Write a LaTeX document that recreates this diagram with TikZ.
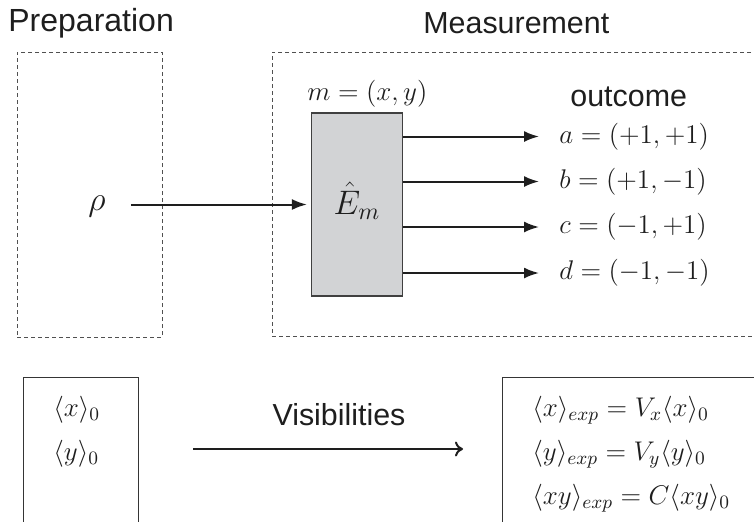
\documentclass[tikz,border=0pt]{standalone}
\usepackage{fix-cm}
\usepackage{fontspec}
\newfontfamily\labelsans{Liberation Sans}
\usetikzlibrary{arrows.meta}
\definecolor{ink}{HTML}{1E1E1E}
\definecolor{boxgray}{HTML}{D2D3D5}
\definecolor{dashgray}{HTML}{505050}
\tikzset{
  sanslabel/.style={font=\labelsans\fontsize{15.2}{18}\selectfont, text=ink, inner sep=0pt},
  mathlabel/.style={font=\fontsize{13.5}{17}\selectfont, text=ink, inner sep=0pt},
  biglabel/.style={font=\fontsize{17}{20}\selectfont, text=ink, inner sep=0pt},
  dashbox/.style={draw=dashgray, line width=0.5pt, dash pattern=on 2pt off 1.5pt, inner sep=0pt},
  solidbox/.style={draw=ink!90, line width=0.5pt, inner sep=0pt},
  graybox/.style={draw=ink!85, fill=boxgray, line width=0.6pt, inner sep=0pt,
    minimum width=45.5pt, minimum height=91.5pt, font=\fontsize{17}{20}\selectfont,
    text=ink, text height=12pt, text depth=2.5pt},
  arr/.style={draw=ink, line width=1pt, -{Latex[length=7.5pt,width=5.5pt]}},
  openarr/.style={draw=ink, line width=1pt, -{To[length=4pt,width=7.5pt]}},
}
\begin{document}
\begin{tikzpicture}[x=0.5pt, y=-0.5pt]
\useasboundingbox (0,0) rectangle (754,521);
\clip (0,0) rectangle (754,521);
% titles
\node[sanslabel, font=\labelsans\fontsize{16}{19}\selectfont, anchor=base west] (prep) at (8,31) {Preparation};
\node[sanslabel, anchor=base west] (meas) at (423,33) {Measurement};
% dashed boxes
\node[dashbox, minimum width=72.5pt, minimum height=142.5pt] (pbox) at (89.5,194.5) {};
\node[dashbox, minimum width=264pt, minimum height=142pt] (mbox) at (536,194) {};
% measurement device
\node[graybox] (E) at (357,204.5) {$\hat{E}_m$};
\node[mathlabel, anchor=base west] (mlab) at (307,100) {$m=(x,y)$};
\node[sanslabel, anchor=base west] (outc) at (570,106) {outcome};
% state
\node[biglabel, anchor=base west] (rho) at (88,210) {$\rho$};
\draw[arr] ([xshift=12.5pt]rho.east |- E.west) -- ([xshift=-2pt]E.west);
% outcomes
\node[mathlabel, anchor=west] (a) at (559,136.5) {$a=(+1,+1)$};
\node[mathlabel, anchor=west] (b) at (559,181.5) {$b=(+1,-1)$};
\node[mathlabel, anchor=west] (c) at (559,227) {$c=(-1,+1)$};
\node[mathlabel, anchor=west] (d) at (559,273) {$d=(-1,-1)$};
\foreach \n in {a,b,c,d}{
  \draw[arr] (E.east |- \n.west) -- ([xshift=-10pt]\n.west);
}
% bottom boxes
\node[solidbox, minimum width=57.5pt, minimum height=91.5pt] (L) at (80.5,468.5) {};
\node[solidbox, minimum width=149pt, minimum height=91.5pt] (R) at (651,468.5) {};
\node[mathlabel, anchor=base west] (x0) at (53,416) {$\langle x\rangle_0$};
\node[mathlabel, anchor=base west] (y0) at (53,460) {$\langle y\rangle_0$};
\node[mathlabel, anchor=base west] (e1) at (532,416) {$\langle x\rangle_{exp}=V_x\langle x\rangle_0$};
\node[mathlabel, anchor=base west] (e2) at (532,460) {$\langle y\rangle_{exp}=V_y\langle y\rangle_0$};
\node[mathlabel, anchor=base west] (e3) at (532,504) {$\langle xy\rangle_{exp}=C\langle xy\rangle_0$};
% visibilities arrow
\coordinate (v1) at (193,449);
\coordinate (v2) at (463,449);
\draw[openarr] (v1) -- (v2);
\node[sanslabel, anchor=base] (vis) at (339,425) {Visibilities};
\end{tikzpicture}
\end{document}
